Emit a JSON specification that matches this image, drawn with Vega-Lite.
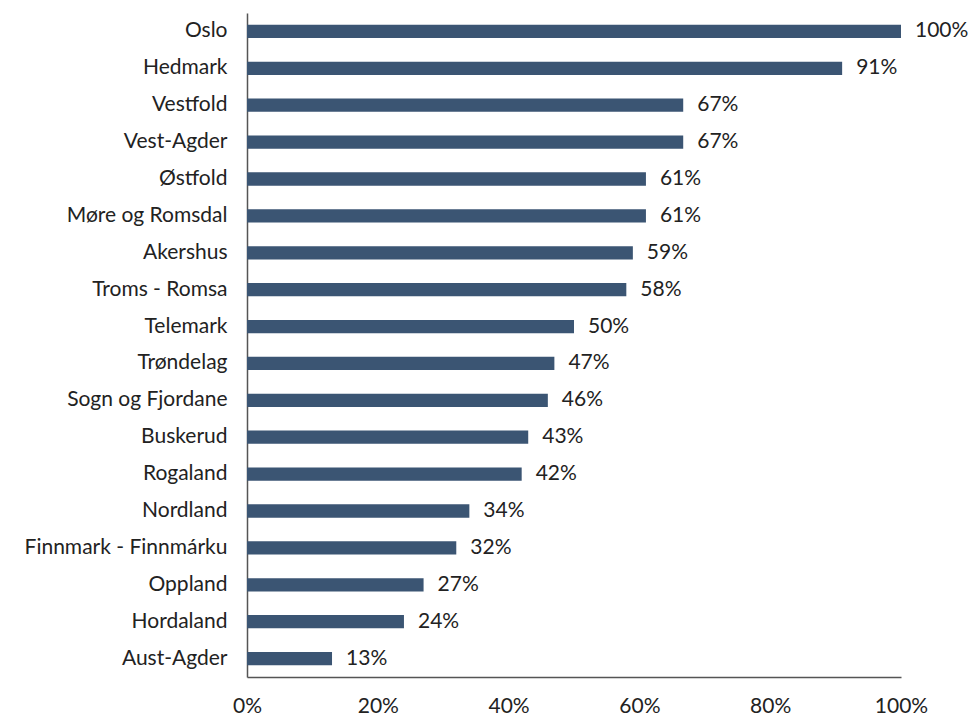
{
  "$schema": "https://vega.github.io/schema/vega-lite/v6.json",
  "autosize": {"type": "none"},
  "padding": {"left": 247, "top": 13, "right": 72, "bottom": 40},
  "width": 654,
  "height": 664,
  "background": "white",
  "config": {"view": {"stroke": null}, "font": "Lato"},
  "data": {"values": [
    {"region": "Oslo", "value": 1.00},
    {"region": "Hedmark", "value": 0.91},
    {"region": "Vestfold", "value": 0.667},
    {"region": "Vest-Agder", "value": 0.667},
    {"region": "Østfold", "value": 0.61},
    {"region": "Møre og Romsdal", "value": 0.61},
    {"region": "Akershus", "value": 0.59},
    {"region": "Troms - Romsa", "value": 0.58},
    {"region": "Telemark", "value": 0.50},
    {"region": "Trøndelag", "value": 0.47},
    {"region": "Sogn og Fjordane", "value": 0.46},
    {"region": "Buskerud", "value": 0.43},
    {"region": "Rogaland", "value": 0.42},
    {"region": "Nordland", "value": 0.34},
    {"region": "Finnmark - Finnmárku", "value": 0.32},
    {"region": "Oppland", "value": 0.27},
    {"region": "Hordaland", "value": 0.24},
    {"region": "Aust-Agder", "value": 0.13}
  ]},
  "encoding": {
    "y": {"field": "region", "type": "nominal", "sort": null,
      "scale": {"paddingInner": 0.64, "paddingOuter": 0.32},
      "axis": {"title": null, "ticks": false, "labelFontSize": 21, "labelLimit": 300, "labelColor": "#222222", "labelPadding": 20, "domainColor": "#555555", "domainWidth": 1.5}},
    "x": {"field": "value", "type": "quantitative",
      "scale": {"domain": [0, 1], "nice": false},
      "axis": {"title": null, "format": ".0%", "values": [0, 0.2, 0.4, 0.6, 0.8, 1], "ticks": false, "grid": false, "labelFontSize": 21, "labelColor": "#222222", "labelPadding": 18, "domainColor": "#555555", "domainWidth": 1.5, "labelFlush": false}}
  },
  "layer": [
    {"mark": {"type": "bar", "color": "#3b5573"}},
    {"mark": {"type": "text", "align": "left", "dx": 14, "fontSize": 21, "color": "#222222"},
     "encoding": {"text": {"field": "value", "type": "quantitative", "format": ".0%"}}}
  ]
}
